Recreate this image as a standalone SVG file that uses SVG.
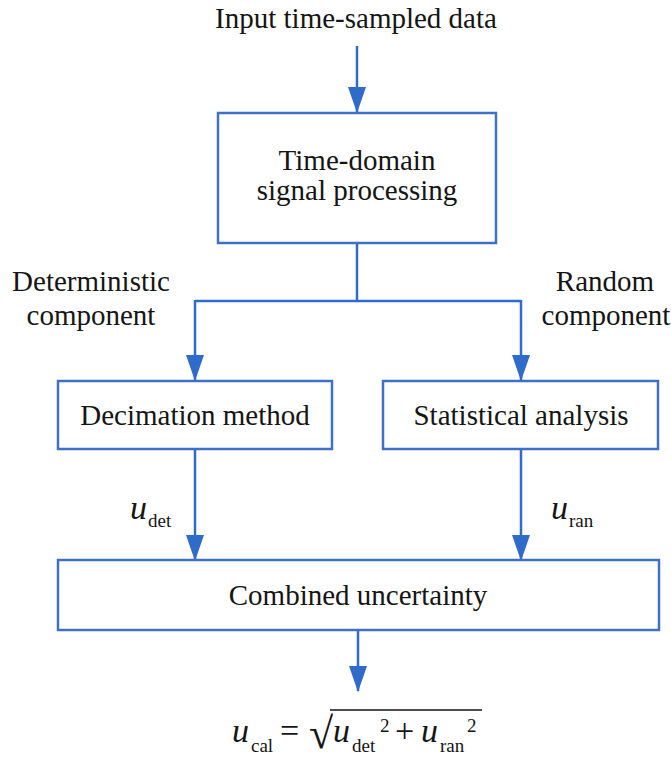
<svg xmlns="http://www.w3.org/2000/svg" width="671" height="763" viewBox="0 0 671 763">
<style>
  .box{fill:#ffffff;stroke:#3f70c6;stroke-width:2.5}
  .t{font-family:'Liberation Serif','Times New Roman',Times,'DejaVu Serif',serif;font-size:29px;fill:#151515;text-anchor:middle}
  .conn{fill:none;stroke:#2f6bc8;stroke-width:2.5}
  .m{font-family:'Liberation Serif','Times New Roman',Times,'DejaVu Serif',serif;fill:#151515}
  .mi{font-style:italic;font-size:34px}
  .sub{font-size:19px}
</style>
<defs>
  <marker id="arr" markerUnits="userSpaceOnUse" markerWidth="26" markerHeight="18" viewBox="0 0 26 18" refX="25" refY="9" orient="auto">
    <path d="M0,0 L26,9 L0,18 Z" fill="#2f6bc8"/>
  </marker>
</defs>

<text class="t" x="356" y="28" font-family="Liberation Serif, serif">Input time-sampled data</text>

<g id="connectors">
  <path class="conn" d="M357,46 V112" marker-end="url(#arr)"/>
  <path class="conn" d="M357,243 V301"/>
  <path class="conn" d="M195,301 H521"/>
  <path class="conn" d="M195,300 V380" marker-end="url(#arr)"/>
  <path class="conn" d="M521,300 V380" marker-end="url(#arr)"/>
  <path class="conn" d="M195,449 V560" marker-end="url(#arr)"/>
  <path class="conn" d="M521,449 V560" marker-end="url(#arr)"/>
  <path class="conn" d="M358,630 V691" marker-end="url(#arr)"/>
</g>

<g id="node-time-domain">
  <rect class="box" x="218" y="113" width="278" height="130"/>
  <text class="t" x="357" y="170">Time-domain</text>
  <text class="t" x="357" y="200">signal processing</text>
</g>

<g id="label-deterministic">
  <text class="t" x="91" y="291">Deterministic</text>
  <text class="t" x="91" y="325">component</text>
</g>

<g id="label-random">
  <text class="t" x="605" y="291">Random</text>
  <text class="t" x="606" y="325">component</text>
</g>

<g id="node-decimation">
  <rect class="box" x="58" y="381" width="274" height="68"/>
  <text class="t" x="195" y="425">Decimation method</text>
</g>

<g id="node-statistical">
  <rect class="box" x="383" y="381" width="275" height="68"/>
  <text class="t" x="521" y="425">Statistical analysis</text>
</g>

<g id="label-udet">
  <text class="m" y="519"><tspan class="mi" x="130">u</tspan><tspan class="sub" x="148" y="527">det</tspan></text>
</g>

<g id="label-uran">
  <text class="m" y="519"><tspan class="mi" x="551">u</tspan><tspan class="sub" x="569" y="527">ran</tspan></text>
</g>

<g id="node-combined">
  <rect class="box" x="58" y="560" width="601" height="70"/>
  <text class="t" x="358" y="605">Combined uncertainty</text>
</g>

<g id="formula">
  <text class="m" y="742"><tspan class="mi" x="232">u</tspan><tspan class="sub" x="251" y="752">cal</tspan><tspan style="font-size:34px" x="280" y="742">=</tspan></text>
  <text class="m" x="309" y="748" style="font-size:44px">√</text>
  <line x1="330" y1="710" x2="482" y2="710" stroke="#151515" stroke-width="1.6"/>
  <text class="m" y="742"><tspan class="mi" x="333">u</tspan><tspan class="sub" x="352" y="752">det</tspan><tspan class="sub" x="380" y="732">2</tspan><tspan style="font-size:34px" x="395" y="742">+</tspan><tspan class="mi" x="421" y="742">u</tspan><tspan class="sub" x="440" y="752">ran</tspan><tspan class="sub" x="467" y="732">2</tspan></text>
</g>
</svg>
